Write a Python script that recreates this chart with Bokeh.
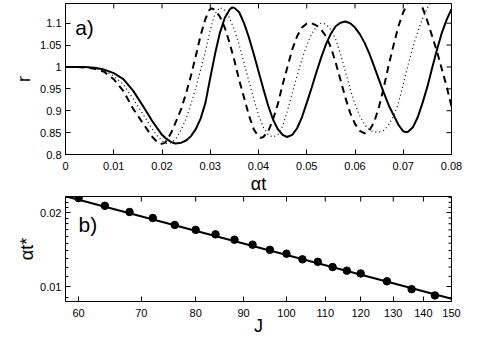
import math
from bokeh.plotting import figure
from bokeh.layouts import column
from bokeh.models import FixedTicker, Label, Range1d
from bokeh.embed import file_html
from bokeh.resources import INLINE

FONT = "Liberation Sans"

# ---------- panel a) data ----------
t_solid = [0, 0.002, 0.004, 0.006, 0.008, 0.010, 0.012, 0.014, 0.016, 0.018, 0.020, 0.021, 0.022, 0.0228,
           0.024, 0.025, 0.026, 0.027, 0.028, 0.029, 0.030, 0.031, 0.032, 0.033, 0.034, 0.0345, 0.035,
           0.036, 0.037, 0.038, 0.039, 0.040, 0.041, 0.042, 0.043, 0.044, 0.045, 0.0459, 0.047, 0.048,
           0.049, 0.050, 0.051, 0.052, 0.053, 0.054, 0.055, 0.056, 0.057, 0.058, 0.059, 0.060, 0.061,
           0.062, 0.063, 0.064, 0.065, 0.066, 0.067, 0.068, 0.069, 0.070, 0.0705, 0.071, 0.072, 0.073,
           0.074, 0.075, 0.076, 0.077, 0.078, 0.079, 0.080]
r_solid = [1.000, 1.000, 1.000, 0.998, 0.994, 0.986, 0.972, 0.946, 0.912, 0.876, 0.845, 0.835, 0.828, 0.825,
           0.827, 0.832, 0.842, 0.858, 0.882, 0.918, 0.975, 1.030, 1.078, 1.112, 1.131, 1.136, 1.135,
           1.125, 1.100, 1.068, 1.030, 0.990, 0.950, 0.912, 0.880, 0.858, 0.845, 0.840, 0.845, 0.860,
           0.885, 0.918, 0.952, 0.988, 1.022, 1.052, 1.076, 1.093, 1.101, 1.104, 1.100, 1.090, 1.075,
           1.055, 1.030, 1.000, 0.970, 0.940, 0.912, 0.890, 0.868, 0.853, 0.851, 0.852, 0.862, 0.885,
           0.918, 0.955, 0.998, 1.040, 1.078, 1.108, 1.132]

t_dashed = [0, 0.002, 0.004, 0.006, 0.008, 0.010, 0.012, 0.014, 0.016, 0.018, 0.019, 0.0197, 0.0205,
            0.021, 0.022, 0.023, 0.024, 0.025, 0.026, 0.027, 0.028, 0.029, 0.0298, 0.0303, 0.031, 0.032,
            0.033, 0.034, 0.035, 0.036, 0.037, 0.038, 0.039, 0.040, 0.0405, 0.041, 0.042, 0.043, 0.044,
            0.045, 0.046, 0.047, 0.048, 0.049, 0.050, 0.051, 0.052, 0.053, 0.054, 0.055, 0.056, 0.057,
            0.058, 0.059, 0.060, 0.061, 0.062, 0.063, 0.064, 0.065, 0.066, 0.067, 0.068, 0.069, 0.070,
            0.071, 0.072, 0.073, 0.074, 0.075, 0.076, 0.077, 0.078, 0.079, 0.080]
r_dashed = [1.000, 1.000, 0.999, 0.996, 0.989, 0.972, 0.945, 0.905, 0.872, 0.840, 0.829, 0.824, 0.826,
            0.832, 0.852, 0.878, 0.905, 0.940, 0.980, 1.025, 1.072, 1.110, 1.130, 1.134, 1.130, 1.115,
            1.090, 1.055, 1.015, 0.970, 0.930, 0.890, 0.858, 0.841, 0.838, 0.840, 0.853, 0.880, 0.915,
            0.960, 1.000, 1.040, 1.070, 1.090, 1.099, 1.100, 1.095, 1.085, 1.070, 1.045, 1.010, 0.970,
            0.930, 0.895, 0.870, 0.854, 0.848, 0.855, 0.875, 0.910, 0.955, 1.005, 1.050, 1.093, 1.125,
            1.148, 1.160, 1.155, 1.135, 1.105, 1.070, 1.035, 0.995, 0.955, 0.910]

t_dotted = [0, 0.002, 0.004, 0.006, 0.008, 0.010, 0.012, 0.014, 0.016, 0.018, 0.019, 0.020, 0.021,
            0.022, 0.023, 0.024, 0.025, 0.026, 0.027, 0.028, 0.029, 0.030, 0.031, 0.032, 0.033, 0.034,
            0.035, 0.036, 0.037, 0.038, 0.039, 0.040, 0.041, 0.042, 0.043, 0.044, 0.045, 0.046, 0.047,
            0.048, 0.049, 0.050, 0.051, 0.052, 0.053, 0.054, 0.055, 0.056, 0.057, 0.058, 0.059, 0.060,
            0.061, 0.062, 0.063, 0.064, 0.065, 0.066, 0.067, 0.068, 0.069, 0.070, 0.071, 0.072, 0.073,
            0.074, 0.075, 0.076, 0.077, 0.078, 0.079, 0.080]
r_dotted = [1.000, 1.000, 1.000, 0.997, 0.992, 0.979, 0.960, 0.928, 0.893, 0.858, 0.843, 0.831, 0.825,
            0.827, 0.838, 0.857, 0.882, 0.915, 0.952, 0.993, 1.035, 1.085, 1.122, 1.136, 1.130, 1.112,
            1.085, 1.050, 1.010, 0.968, 0.928, 0.890, 0.862, 0.845, 0.840, 0.845, 0.865, 0.900, 0.940,
            0.980, 1.017, 1.050, 1.075, 1.092, 1.100, 1.098, 1.085, 1.063, 1.030, 0.990, 0.950, 0.915,
            0.888, 0.868, 0.856, 0.851, 0.851, 0.855, 0.868, 0.888, 0.918, 0.960, 1.005, 1.045, 1.080,
            1.110, 1.135, 1.152, 1.160, 1.163, 1.160, 1.155]

xrange_a = (0, 0.08)
yrange_a = (0.8, 1.145)
xticks_a = [0, 0.01, 0.02, 0.03, 0.04, 0.05, 0.06, 0.07, 0.08]
xlabels_a = ["0", "0.01", "0.02", "0.03", "0.04", "0.05", "0.06", "0.07", "0.08"]
yticks_a = [0.8, 0.85, 0.9, 0.95, 1.0, 1.05, 1.1]
ylabels_a = ["0.8", "0.85", "0.9", "0.95", "1", "1.05", "1.1"]

# ---------- panel b) data ----------
J = [60, 64, 68, 72, 76, 80, 84, 88, 92, 96, 100, 104, 108, 112, 116, 120, 128, 136, 144]
at_star = [0.0229, 0.0213, 0.0201, 0.0190, 0.0178, 0.0170, 0.0163, 0.0155, 0.0148, 0.0141, 0.0136,
           0.0129, 0.0126, 0.0120, 0.0116, 0.0113, 0.0105, 0.00975, 0.0092]
J_fit = [58.1, 150]
at_fit = [0.0233, 0.00891]

xrange_b = (58.1, 150)
yrange_b = (0.00869, 0.02324)
xticks_b = [60, 70, 80, 90, 100, 110, 120, 130, 140, 150]
yticks_b = [0.01, 0.02]
ylabels_b = ["0.01", "0.02"]
yminor_b = [0.009, 0.011, 0.012, 0.013, 0.014, 0.015, 0.016, 0.017, 0.018, 0.019, 0.021, 0.022, 0.023]


def style_axis(ax, ticks, labels, minor=None):
    ax.ticker = FixedTicker(ticks=ticks, minor_ticks=minor or [])
    ax.major_label_overrides = {t: l for t, l in zip(ticks, labels)}
    ax.major_tick_in = 5
    ax.major_tick_out = 0
    ax.minor_tick_in = 3
    ax.minor_tick_out = 0
    ax.axis_line_color = "black"
    ax.major_tick_line_color = "black"
    ax.minor_tick_line_color = "black" if minor else None
    ax.major_label_text_font = FONT
    ax.major_label_text_font_size = "11px"
    ax.major_label_text_color = "black"
    ax.major_label_standoff = 7
    ax.axis_label_text_font = FONT
    ax.axis_label_text_font_style = "normal"
    ax.axis_label_text_font_size = "18px"
    ax.axis_label_text_color = "black"
    ax.axis_label_standoff = 1


def box_ticks(p, xticks, yticks, xmax, ymax, yminor=None):
    # tick marks along the top and right edges of the box, pointing inwards
    p.ray(x=xticks, y=[ymax] * len(xticks), length=5, length_units="screen",
          angle=-math.pi / 2, line_color="black", line_width=1)
    p.ray(x=[xmax] * len(yticks), y=yticks, length=5, length_units="screen",
          angle=math.pi, line_color="black", line_width=1)
    if yminor:
        p.ray(x=[xmax] * len(yminor), y=yminor, length=3, length_units="screen",
              angle=math.pi, line_color="black", line_width=1)


# ---------- panel a) ----------
pa = figure(frame_width=386, frame_height=151, output_backend="svg", toolbar_location=None,
            x_range=Range1d(*xrange_a), y_range=Range1d(*yrange_a),
            min_border_left=65, min_border_right=40, min_border_top=3, min_border_bottom=42)
pa.grid.visible = False
pa.outline_line_color = "black"
pa.background_fill_color = "white"
pa.border_fill_color = "white"

pa.line(t_solid, r_solid, line_color="black", line_width=2)
pa.line(t_dashed, r_dashed, line_color="black", line_width=2, line_dash="7 5")
pa.line(t_dotted, r_dotted, line_color="black", line_width=1.2, line_dash="1 3")
box_ticks(pa, xticks_a, yticks_a, xrange_a[1], yrange_a[1])

style_axis(pa.xaxis[0], xticks_a, xlabels_a)
style_axis(pa.yaxis[0], yticks_a, ylabels_a)
pa.yaxis[0].major_label_standoff = 4
pa.xaxis[0].axis_label = "αt"
pa.yaxis[0].axis_label = "r"
pa.yaxis[0].axis_label_standoff = 3
pa.add_layout(Label(x=0.002, y=1.091, text="a)", text_font=FONT, text_font_size="21px",
                    text_baseline="middle", text_color="black"))

# ---------- panel b) ----------
pb = figure(frame_width=386, frame_height=105, output_backend="svg", toolbar_location=None,
            x_axis_type="log", y_axis_type="log",
            x_range=Range1d(*xrange_b), y_range=Range1d(*yrange_b),
            min_border_left=65, min_border_right=40, min_border_top=0, min_border_bottom=36)
pb.grid.visible = False
pb.outline_line_color = "black"
pb.background_fill_color = "white"
pb.border_fill_color = "white"

pb.line(J_fit, at_fit, line_color="black", line_width=2)
pb.scatter(J, at_star, size=7.5, fill_color="black", line_color="black")
box_ticks(pb, xticks_b, yticks_b, xrange_b[1], yrange_b[1], yminor_b)

style_axis(pb.xaxis[0], xticks_b, [str(v) for v in xticks_b])
style_axis(pb.yaxis[0], yticks_b, ylabels_b, minor=yminor_b)
pb.yaxis[0].major_label_standoff = 4
pb.xaxis[0].axis_label = "J"
pb.xaxis[0].axis_label_standoff = -4
pb.yaxis[0].axis_label = "αt*"
pb.yaxis[0].axis_label_standoff = 0
pb.add_layout(Label(x=60, y=0.0179, text="b)", text_font=FONT, text_font_size="21px",
                    text_baseline="middle", text_color="black"))

layout = column(pa, pb, spacing=0)
open("out.html", "w").write(file_html(layout, INLINE))
